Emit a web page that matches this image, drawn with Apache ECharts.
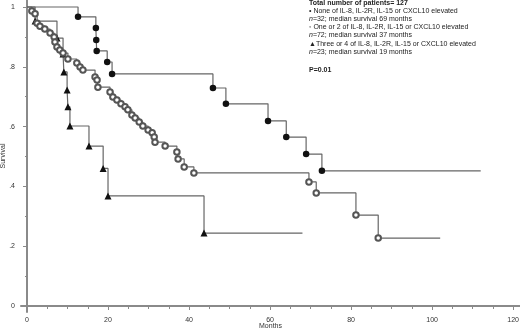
<!DOCTYPE html>
<html>
<head>
<meta charset="utf-8">
<script src="https://cdn.jsdelivr.net/npm/echarts@6/dist/echarts.min.js"></script>
<style>
  html, body { margin: 0; padding: 0; background: #fff; }
  #chart { width: 520px; height: 333px; }
</style>
</head>
<body>
<div id="chart"></div>
<script>
// group 1: none elevated (filled circles)
const g1Months = [12.6, 17.0, 17.1, 17.2, 19.8, 21.0, 45.9, 49.1, 59.5, 64.0, 68.9, 72.8];
const g1Surv = [0.967, 0.93, 0.89, 0.853, 0.816, 0.776, 0.729, 0.676, 0.619, 0.565, 0.508, 0.452];
const g1End = 112;

// group 2: one or 2 elevated (open circles)
const g2Months = [1.2, 2.0, 2.5, 3.2, 4.4, 5.7, 6.7, 6.9, 7.4, 8.1, 8.9, 10.1, 12.3, 13.1, 13.8,
  16.8, 17.3, 17.5, 20.5, 21.2, 22.2, 23.2, 24.2, 24.9, 25.9, 26.7, 27.7, 28.6, 29.9, 30.9,
  31.4, 31.6, 34.1, 37.0, 37.3, 38.8, 41.2, 69.6, 71.4, 81.2, 86.7];
const g2Surv = [0.987, 0.977, 0.946, 0.936, 0.926, 0.913, 0.900, 0.883, 0.866, 0.856, 0.846, 0.826, 0.813, 0.799, 0.789,
  0.766, 0.756, 0.732, 0.716, 0.699, 0.689, 0.676, 0.666, 0.656, 0.639, 0.629, 0.615, 0.602, 0.589, 0.579,
  0.565, 0.548, 0.535, 0.515, 0.492, 0.465, 0.445, 0.415, 0.378, 0.304, 0.227];
const g2End = 102;

// group 3: three or 4 elevated (triangles)
const g3Months = [2.0, 7.4, 8.9, 9.1, 9.9, 10.1, 10.6, 15.3, 18.8, 20.0, 43.7];
const g3Surv = [0.953, 0.896, 0.843, 0.783, 0.722, 0.666, 0.602, 0.535, 0.46, 0.368, 0.244];
const g3End = 68;

const xMajor = [0, 20, 40, 60, 80, 100, 120];
const xMinor = [5, 10, 15, 25, 30, 35, 45, 50, 55, 65, 70, 75, 85, 90, 95, 105, 110, 115];
const yMajor = [0, 0.2, 0.4, 0.6, 0.8, 1];
const yMinor = [0.1, 0.3, 0.5, 0.7, 0.9];

function km(months, surv, end) {
  let d = [{value: [0, 1], symbol: 'none'}];
  months.forEach(function (m, i) { d.push([m, surv[i]]); });
  d.push({value: [end, surv[surv.length - 1]], symbol: 'none'});
  return d;
}

let myChart = echarts.init(document.getElementById('chart'));
const font = 'Liberation Sans';
const axisGrey = '#8a8a8a';
const lineGrey = '#666';
const txt = {fontSize: 7, fontFamily: font, fill: '#222', verticalAlign: 'middle'};
const italicN = {i: {fontStyle: 'italic', fontSize: 7, fontFamily: font, fill: '#222'}};

let option = {
  animation: false,
  grid: {left: 21, top: 0, right: 0, bottom: 21, containLabel: false, outerBoundsMode: 'none'},
  xAxis: [{
    type: 'value',
    min: -1.48, max: 121.7,
    splitLine: {show: false},
    axisLine: {lineStyle: {color: axisGrey, width: 2}},
    axisTick: {customValues: xMajor, length: 4, lineStyle: {color: axisGrey}},
    axisLabel: {customValues: xMajor, color: '#333', fontSize: 7, fontFamily: font, margin: 5},
    name: 'Months', nameLocation: 'middle', nameGap: 11, nameMoveOverlap: false,
    nameTextStyle: {color: '#333', fontSize: 7, fontFamily: font}
  }, {
    type: 'value',
    min: -1.48, max: 121.7,
    position: 'bottom',
    splitLine: {show: false},
    axisLine: {show: false},
    axisTick: {customValues: xMinor, length: 3, lineStyle: {color: axisGrey}},
    axisLabel: {show: false}
  }],
  yAxis: [{
    type: 'value',
    min: -0.0201, max: 1.0234,
    splitLine: {show: false},
    axisLine: {show: true, lineStyle: {color: axisGrey, width: 2}},
    axisTick: {show: true, customValues: yMajor, length: 4, lineStyle: {color: axisGrey}},
    axisLabel: {
      customValues: yMajor, color: '#333', fontSize: 7, fontFamily: font, margin: 6,
      formatter: function (v) {
        if (v === 0) return '0';
        if (v === 1) return '1';
        return String(+v.toFixed(1)).replace('0.', '.');
      }
    },
    name: 'Survival', nameLocation: 'middle', nameGap: 14, nameRotate: 90, nameMoveOverlap: false,
    nameTextStyle: {color: '#333', fontSize: 7, fontFamily: font}
  }, {
    type: 'value',
    min: -0.0201, max: 1.0234,
    position: 'left',
    splitLine: {show: false},
    axisLine: {show: false},
    axisTick: {show: true, customValues: yMinor, length: 2, lineStyle: {color: axisGrey}},
    axisLabel: {show: false}
  }],
  series: [
    {
      name: 'three or 4', type: 'line', step: 'end',
      data: km(g3Months, g3Surv, g3End),
      symbol: 'triangle', symbolSize: 7,
      lineStyle: {color: lineGrey, width: 1.2},
      itemStyle: {color: '#111'}
    },
    {
      name: 'one or 2', type: 'line', step: 'end',
      data: km(g2Months, g2Surv, g2End),
      symbol: 'emptyCircle', symbolSize: 5.5,
      lineStyle: {color: lineGrey, width: 1.2},
      itemStyle: {color: '#555', borderWidth: 0.7}
    },
    {
      name: 'none', type: 'line', step: 'end',
      data: km(g1Months, g1Surv, g1End),
      symbol: 'circle', symbolSize: 6.5,
      lineStyle: {color: lineGrey, width: 1.2},
      itemStyle: {color: '#111'}
    }
  ],
  graphic: [
    {type: 'text', x: 309, y: 3, style: Object.assign({}, txt, {text: 'Total number of patients= 127', fontWeight: 'bold'})},
    {type: 'text', x: 309, y: 11, style: Object.assign({}, txt, {text: '\u2022 None of IL-8, IL-2R, IL-15 or CXCL10 elevated'})},
    {type: 'text', x: 309, y: 19, style: Object.assign({}, txt, {text: '{i|n}=32; median survival 69 months', rich: italicN})},
    {type: 'text', x: 309, y: 27, style: Object.assign({}, txt, {text: '\u25e6 One or 2 of IL-8, IL-2R, IL-15 or CXCL10 elevated'})},
    {type: 'text', x: 309, y: 35, style: Object.assign({}, txt, {text: '{i|n}=72; median survival 37 months', rich: italicN})},
    {type: 'text', x: 309, y: 44, style: Object.assign({}, txt, {text: '\u25b2Three or 4 of IL-8, IL-2R, IL-15 or CXCL10 elevated'})},
    {type: 'text', x: 309, y: 52, style: Object.assign({}, txt, {text: '{i|n}=23; median survival 19 months', rich: italicN})},
    {type: 'text', x: 309, y: 70, style: Object.assign({}, txt, {text: 'P=0.01', fontWeight: 'bold'})}
  ]
};
myChart.setOption(option);
</script>
</body>
</html>
